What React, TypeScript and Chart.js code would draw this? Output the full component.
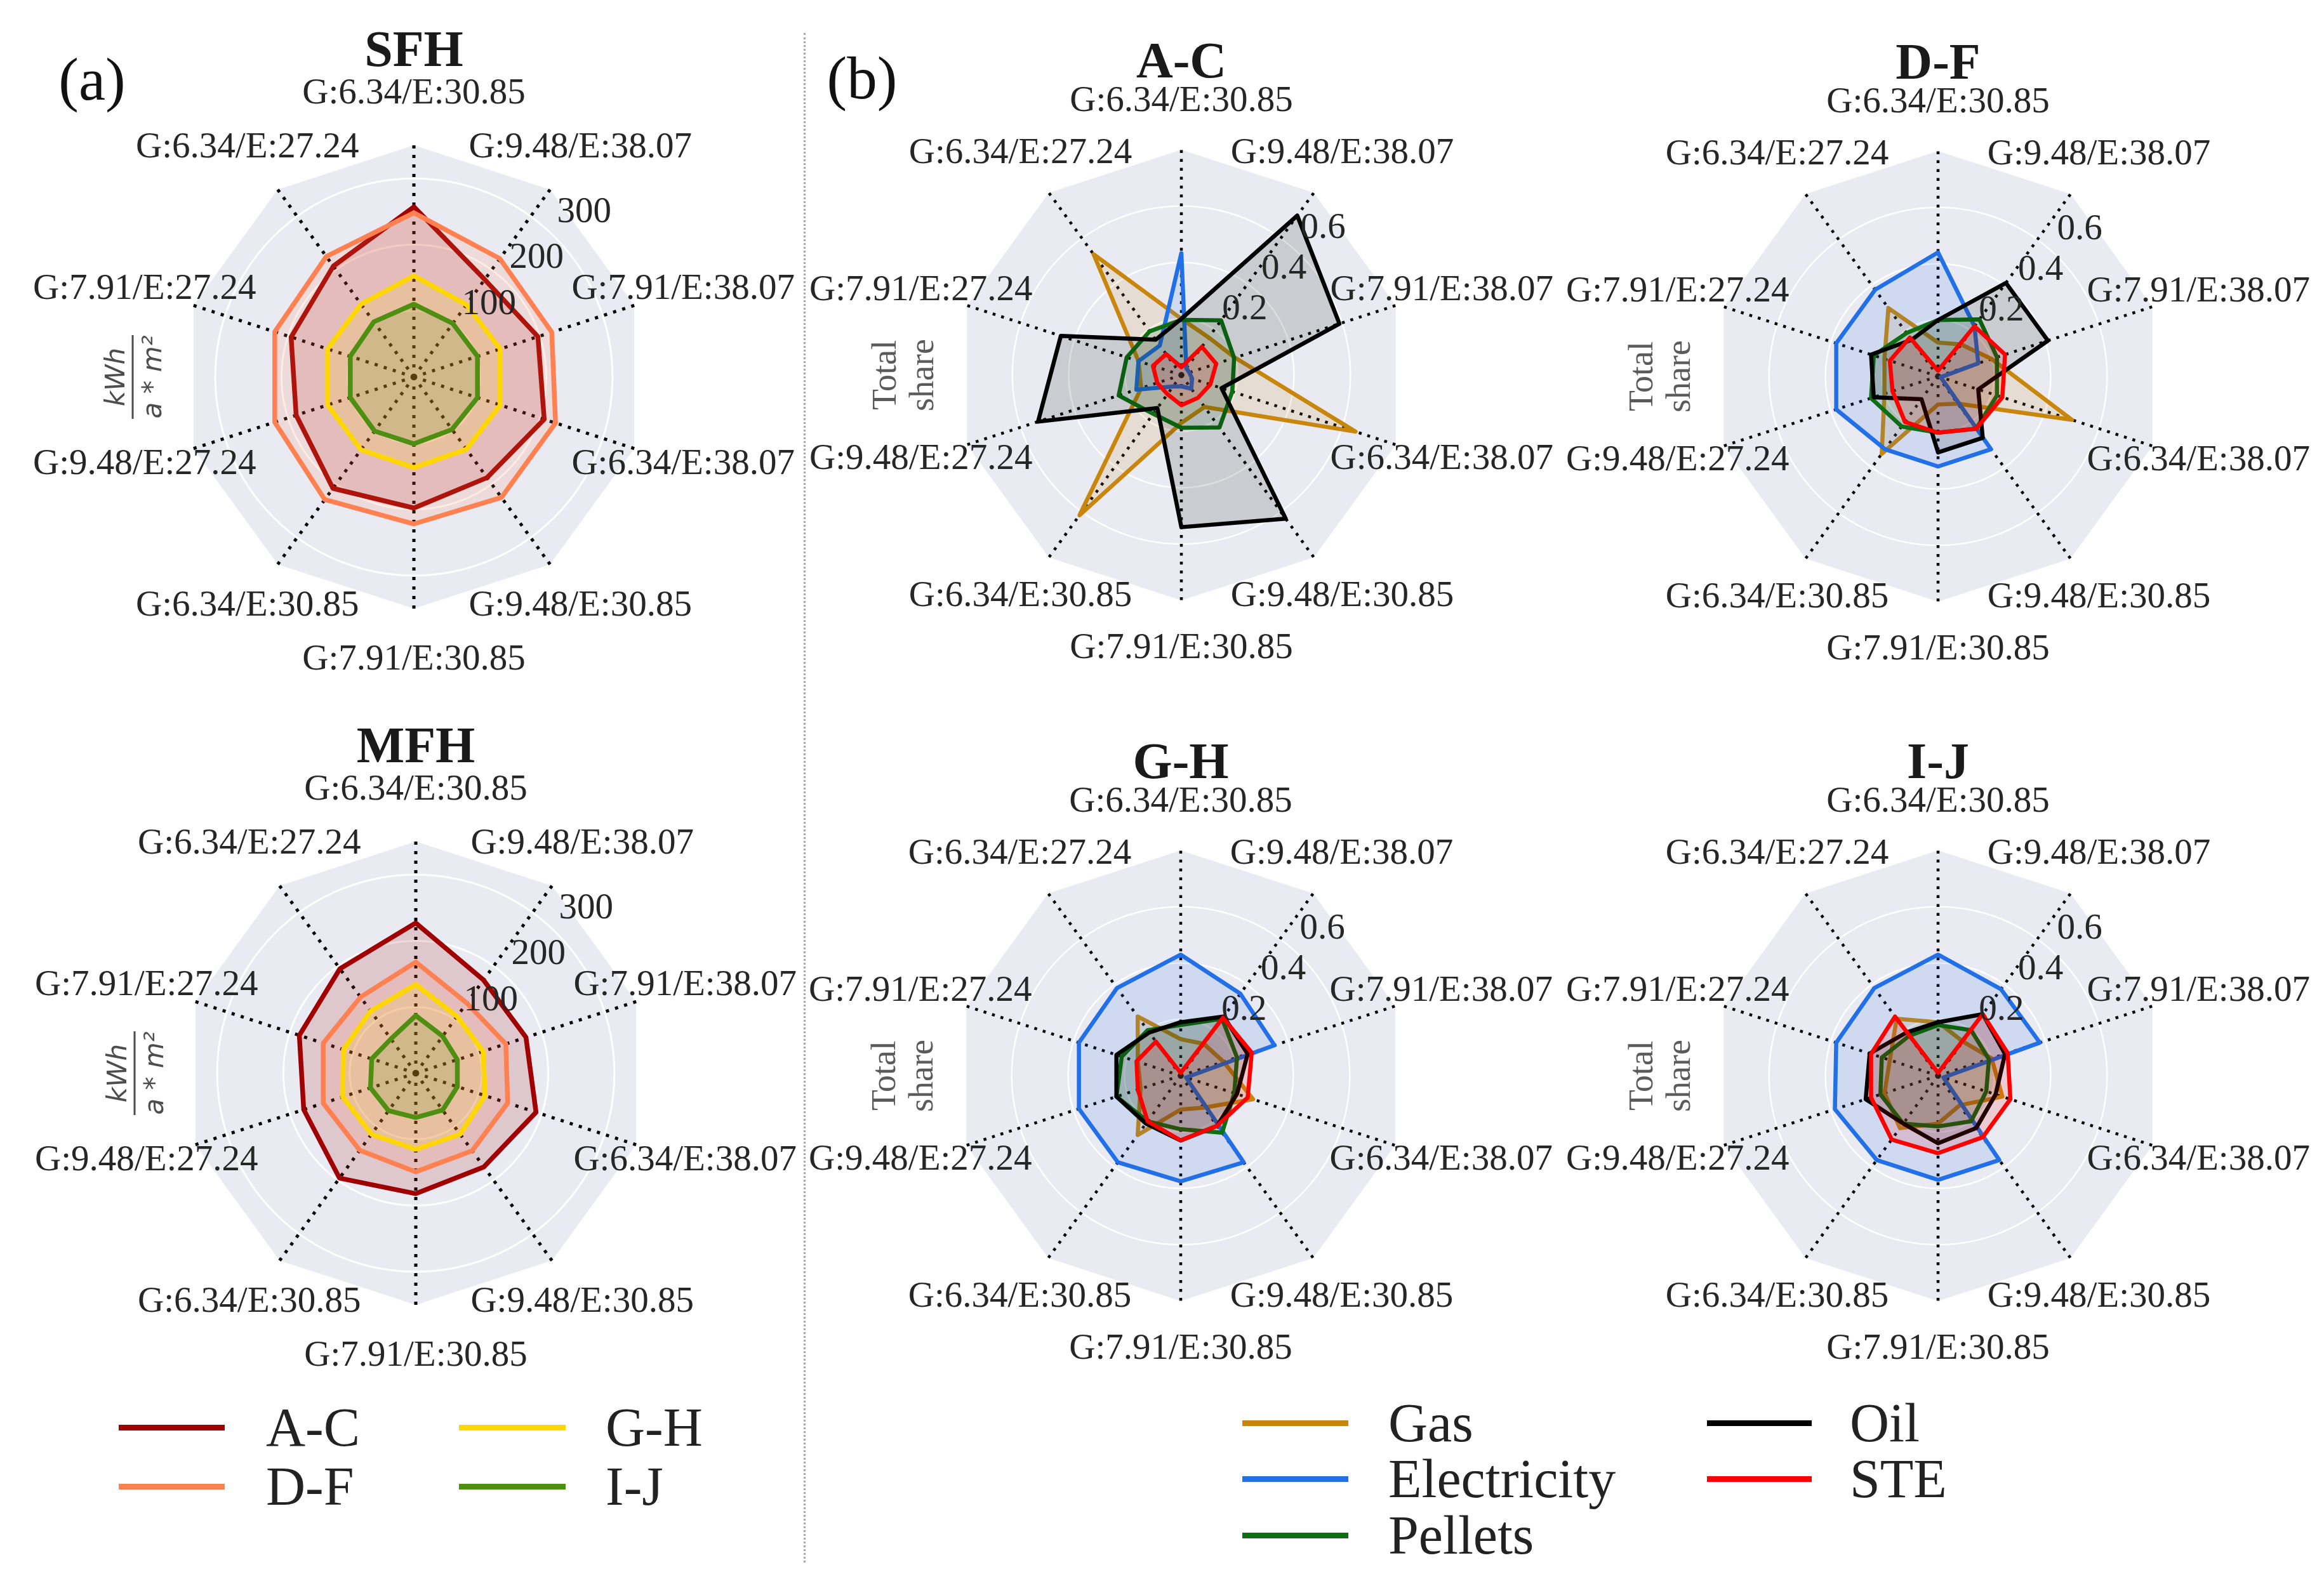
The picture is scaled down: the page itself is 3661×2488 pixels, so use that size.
import React, { useEffect, useRef } from 'react';
import { Chart, registerables } from 'chart.js';

Chart.register(...registerables);

// ---------- DATA ----------
// axes listed clockwise starting at the top
const AXIS_LABELS = [
  'G:6.34/E:30.85', 'G:9.48/E:38.07', 'G:7.91/E:38.07', 'G:6.34/E:38.07', 'G:9.48/E:30.85',
  'G:7.91/E:30.85', 'G:6.34/E:30.85', 'G:9.48/E:27.24', 'G:7.91/E:27.24', 'G:6.34/E:27.24',
];

const CLASS_NAMES = ['A-C', 'D-F', 'G-H', 'I-J'];
const CARRIER_NAMES = ['Gas', 'Electricity', 'Pellets', 'Oil', 'STE'];

const SFH_AC = [257, 182, 197, 207, 188, 198, 208, 187, 195, 207];
const SFH_DF = [248, 221, 219, 225, 225, 222, 229, 221, 221, 225];
const SFH_GH = [153, 135, 137, 137, 135, 137, 136, 137, 137, 136];
const SFH_IJ = [110, 100, 101, 101, 98, 101, 101, 101, 101, 103];

const MFH_AC = [227, 174, 175, 191, 175, 182, 196, 178, 185, 195];
const MFH_DF = [168, 131, 143, 146, 145, 149, 144, 147, 147, 142];
const MFH_GH = [134, 106, 107, 110, 114, 115, 114, 116, 115, 116];
const MFH_IJ = [87, 69, 66, 66, 69, 67, 70, 72, 70, 64];

const AC_GAS = [0.2, 0.165, 0.2, 0.65, 0.14, 0.17, 0.615, 0.15, 0.16, 0.53];
const AC_ELEC = [0.433, 0.03, 0.03, 0.04, 0.06, 0.04, 0.05, 0.168, 0.16, 0.13];
const AC_PELLETS = [0.196, 0.24, 0.197, 0.19, 0.23, 0.187, 0.17, 0.234, 0.204, 0.192];
const AC_OIL = [0.2, 0.7, 0.59, 0.15, 0.63, 0.54, 0.145, 0.535, 0.45, 0.155];
const AC_STE = [0.028, 0.124, 0.13, 0.108, 0.1, 0.107, 0.084, 0.09, 0.106, 0.092];

const DF_GAS = [0.12, 0.14, 0.2, 0.5, 0.12, 0.1, 0.34, 0.2, 0.2, 0.3];
const DF_ELEC = [0.44, 0.22, 0.15, 0.01, 0.32, 0.32, 0.32, 0.38, 0.38, 0.38];
const DF_PELLETS = [0.2, 0.25, 0.22, 0.22, 0.23, 0.2, 0.22, 0.25, 0.24, 0.19];
const DF_OIL = [0.2, 0.41, 0.41, 0.15, 0.27, 0.27, 0.1, 0.24, 0.25, 0.16];
const DF_STE = [0.02, 0.22, 0.25, 0.24, 0.23, 0.2, 0.2, 0.17, 0.18, 0.17];

const GH_GAS = [0.13, 0.14, 0.16, 0.27, 0.14, 0.12, 0.26, 0.15, 0.16, 0.26];
const GH_ELEC = [0.43, 0.36, 0.35, 0.02, 0.38, 0.375, 0.38, 0.38, 0.38, 0.385];
const GH_PELLETS = [0.18, 0.25, 0.21, 0.2, 0.25, 0.19, 0.2, 0.24, 0.22, 0.2];
const GH_OIL = [0.19, 0.26, 0.25, 0.21, 0.22, 0.23, 0.21, 0.24, 0.24, 0.19];
const GH_STE = [0.01, 0.255, 0.265, 0.25, 0.22, 0.23, 0.2, 0.16, 0.165, 0.15];

const IJ_GAS = [0.19, 0.15, 0.2, 0.24, 0.13, 0.17, 0.23, 0.2, 0.18, 0.25];
const IJ_ELEC = [0.43, 0.38, 0.38, 0.02, 0.37, 0.37, 0.37, 0.385, 0.38, 0.385];
const IJ_PELLETS = [0.18, 0.2, 0.19, 0.18, 0.2, 0.18, 0.21, 0.215, 0.21, 0.175];
const IJ_OIL = [0.19, 0.27, 0.25, 0.215, 0.23, 0.24, 0.21, 0.27, 0.255, 0.19];
const IJ_STE = [0.01, 0.27, 0.26, 0.27, 0.27, 0.275, 0.28, 0.25, 0.25, 0.26];

const LEFT_TICKS = [100, 200, 300];
const LEFT_TICK_LABELS = ['100', '200', '300'];
const RIGHT_TICKS = [0.2, 0.4, 0.6];
const RIGHT_TICK_LABELS = ['0.2', '0.4', '0.6'];

// ---------- STYLE ----------
const CLASS_COLORS = ['#a00000', '#ff8050', '#ffd700', '#4e8f12'];
const CARRIER_COLORS = ['#c8870c', '#2170e8', '#0d6e14', '#000000', '#ff0000'];
const SERIF = '"Liberation Serif", "DejaVu Serif", serif';

function hexA(hex: string, a: number) {
  const r = parseInt(hex.slice(1, 3), 16);
  const g = parseInt(hex.slice(3, 5), 16);
  const b = parseInt(hex.slice(5, 7), 16);
  return `rgba(${r},${g},${b},${a})`;
}

const CW = 1300;
const CH = 1100;
const OX = 650;
const OY = 590;

const radarDecor = {
  id: 'radarDecor',
  beforeDraw(chart: any) {
    const s = chart.scales.r;
    const ctx = chart.ctx;
    const n = chart.data.labels.length;
    ctx.save();
    ctx.beginPath();
    for (let i = 0; i < n; i++) {
      const p = s.getPointPosition(i, s.drawingArea);
      if (i === 0) ctx.moveTo(p.x, p.y);
      else ctx.lineTo(p.x, p.y);
    }
    ctx.closePath();
    ctx.fillStyle = '#eaeaf2';
    ctx.fill();
    ctx.restore();
  },
  afterDraw(chart: any, _a: any, o: any) {
    const s = chart.scales.r;
    const ctx = chart.ctx;
    const n = chart.data.labels.length;
    ctx.save();
    ctx.fillStyle = '#262626';
    ctx.textAlign = 'center';
    ctx.textBaseline = 'middle';
    ctx.font = `57px ${SERIF}`;
    for (let i = 0; i < n; i++) {
      const p = s.getPointPosition(i, s.drawingArea * o.labelK);
      ctx.fillText(String(chart.data.labels[i]), p.x, p.y);
    }
    const th = (o.tickAngle * Math.PI) / 180;
    o.ticks.forEach((v: number, k: number) => {
      const d = s.getDistanceFromCenterForValue(v) + o.tickOff;
      ctx.fillText(o.tickLabels[k], s.xCenter + d * Math.sin(th), s.yCenter - d * Math.cos(th));
    });
    // title
    ctx.fillStyle = '#1a1a1a';
    ctx.font = `bold 80px ${SERIF}`;
    ctx.textBaseline = 'alphabetic';
    ctx.fillText(o.title, s.xCenter, s.yCenter + o.titleDy);
    // y label
    if (o.kind === 'left') {
      ctx.save();
      ctx.translate(s.xCenter - 443, s.yCenter);
      ctx.rotate(-Math.PI / 2);
      ctx.fillStyle = '#4d4d4d';
      ctx.strokeStyle = '#4d4d4d';
      ctx.font = `italic 42px "DejaVu Sans", sans-serif`;
      ctx.textAlign = 'center';
      ctx.textBaseline = 'alphabetic';
      ctx.fillText('kWh', 0, -13);
      ctx.fillText('a * m²', 0, 45);
      ctx.lineWidth = 3;
      ctx.beginPath();
      ctx.moveTo(-66, 0);
      ctx.lineTo(66, 0);
      ctx.stroke();
      ctx.restore();
    } else {
      const drawRot = (txt: string, dx: number) => {
        ctx.save();
        ctx.fillStyle = '#5a5a5a';
        ctx.font = `54px ${SERIF}`;
        ctx.textAlign = 'center';
        ctx.textBaseline = 'middle';
        ctx.translate(s.xCenter + dx, s.yCenter);
        ctx.rotate(-Math.PI / 2);
        ctx.fillText(txt, 0, 0);
        ctx.restore();
      };
      drawRot('Total', -464);
      drawRot('share', -405);
    }
    ctx.restore();
  },
};

type PanelProps = {
  cx: number;
  cy: number;
  R: number;
  max: number;
  step: number;
  names: string[];
  colors: string[];
  series: number[][];
  lineWidth: number;
  fillAlpha: number;
  dash: number[];
  dashWidth: number;
  gridWidth: number;
  decor: any;
};

function RadarPanel(p: PanelProps) {
  const ref = useRef<HTMLCanvasElement>(null);
  useEffect(() => {
    const n = p.series.length;
    const chart = new Chart(ref.current as HTMLCanvasElement, {
      type: 'radar',
      data: {
        labels: AXIS_LABELS,
        datasets: p.series.map((d, i) => ({
          label: p.names[i],
          data: d,
          borderColor: p.colors[i],
          backgroundColor: hexA(p.colors[i], p.fillAlpha),
          borderWidth: p.lineWidth,
          fill: 'origin',
          pointRadius: 0,
          pointHoverRadius: 0,
          order: n - i,
        })),
      },
      options: {
        responsive: false,
        animation: false,
        devicePixelRatio: 1,
        layout: {
          padding: { left: OX - p.R, right: CW - OX - p.R, top: OY - p.R, bottom: CH - OY - p.R },
        },
        elements: { line: { tension: 0, borderJoinStyle: 'round' } },
        plugins: {
          legend: { display: false },
          tooltip: { enabled: false },
          title: { display: false },
          radarDecor: p.decor,
        } as any,
        scales: {
          r: {
            min: 0,
            max: p.max,
            ticks: { display: false, stepSize: p.step },
            grid: {
              circular: true,
              lineWidth: p.gridWidth,
              color: (c: any) => (c.tick && c.tick.value > p.max - p.step * 0.01 ? 'rgba(0,0,0,0)' : '#ffffff'),
            },
            angleLines: { display: true, color: '#000000', lineWidth: p.dashWidth, borderDash: p.dash },
            pointLabels: { display: false },
          },
        },
      } as any,
      plugins: [radarDecor as any],
    });
    return () => chart.destroy();
  }, []);
  return (
    <canvas
      ref={ref}
      width={CW}
      height={CH}
      style={{ position: 'absolute', left: p.cx - OX, top: p.cy - OY, width: CW, height: CH }}
    />
  );
}

function leftDecor(title: string) {
  return {
    kind: 'left', title, titleDy: -490, labelK: 1.222,
    ticks: LEFT_TICKS, tickLabels: LEFT_TICK_LABELS, tickAngle: 46, tickOff: 60,
  };
}
function rightDecor(title: string) {
  return {
    kind: 'right', title, titleDy: -469, labelK: 1.215,
    ticks: RIGHT_TICKS, tickLabels: RIGHT_TICK_LABELS, tickAngle: 44, tickOff: 55,
  };
}

function LegendItem(props: { x1: number; x2: number; tx: number; y: number; color: string; text: string }) {
  return (
    <>
      <div
        style={{
          position: 'absolute', left: props.x1, top: props.y - 4.5, width: props.x2 - props.x1, height: 9,
          background: props.color,
        }}
      />
      <div
        style={{
          position: 'absolute', left: props.tx, top: props.y, transform: 'translateY(-50%)',
          fontSize: 86, lineHeight: 1, fontFamily: SERIF, color: '#222', whiteSpace: 'nowrap',
        }}
      >
        {props.text}
      </div>
    </>
  );
}

export default function App() {
  const leftCommon = {
    R: 365, max: 350, step: 100, names: CLASS_NAMES, colors: CLASS_COLORS, lineWidth: 7.5,
    fillAlpha: 0.15, dash: [5, 10], dashWidth: 5, gridWidth: 3,
  };
  const rightCommon = {
    R: 355, max: 0.8, step: 0.2, names: CARRIER_NAMES, colors: CARRIER_COLORS, lineWidth: 6.5,
    fillAlpha: 0.13, dash: [4.5, 9.5], dashWidth: 4.5, gridWidth: 2.5,
  };
  return (
    <div
      style={{
        position: 'absolute', left: 0, top: 0, width: 3661, height: 2488, background: '#ffffff',
        overflow: 'hidden', fontFamily: SERIF,
      }}
    >
      <RadarPanel {...leftCommon} cx={652} cy={594} series={[SFH_AC, SFH_DF, SFH_GH, SFH_IJ]} decor={leftDecor('SFH')} />
      <RadarPanel {...leftCommon} cx={655} cy={1691} series={[MFH_AC, MFH_DF, MFH_GH, MFH_IJ]} decor={leftDecor('MFH')} />
      <RadarPanel {...rightCommon} cx={1861} cy={591} series={[AC_GAS, AC_ELEC, AC_PELLETS, AC_OIL, AC_STE]} decor={rightDecor('A-C')} />
      <RadarPanel {...rightCommon} cx={3053} cy={593} series={[DF_GAS, DF_ELEC, DF_PELLETS, DF_OIL, DF_STE]} decor={rightDecor('D-F')} />
      <RadarPanel {...rightCommon} cx={1860} cy={1695} series={[GH_GAS, GH_ELEC, GH_PELLETS, GH_OIL, GH_STE]} decor={rightDecor('G-H')} />
      <RadarPanel {...rightCommon} cx={3053} cy={1695} series={[IJ_GAS, IJ_ELEC, IJ_PELLETS, IJ_OIL, IJ_STE]} decor={rightDecor('I-J')} />

      <div style={{ position: 'absolute', left: 1266, top: 52, height: 2410, borderLeft: '3px dotted #a8a8a8' }} />

      <div style={{ position: 'absolute', left: 145, top: 78, transform: 'translateX(-50%)', fontSize: 95, lineHeight: 1, color: '#111' }}>(a)</div>
      <div style={{ position: 'absolute', left: 1358, top: 76, transform: 'translateX(-50%)', fontSize: 95, lineHeight: 1, color: '#111' }}>(b)</div>

      <LegendItem x1={187} x2={354} tx={419} y={2249} color={CLASS_COLORS[0]} text={CLASS_NAMES[0]} />
      <LegendItem x1={187} x2={354} tx={419} y={2342} color={CLASS_COLORS[1]} text={CLASS_NAMES[1]} />
      <LegendItem x1={723} x2={891} tx={954} y={2249} color={CLASS_COLORS[2]} text={CLASS_NAMES[2]} />
      <LegendItem x1={723} x2={891} tx={954} y={2342} color={CLASS_COLORS[3]} text={CLASS_NAMES[3]} />

      <LegendItem x1={1957} x2={2124} tx={2187} y={2242} color={CARRIER_COLORS[0]} text={CARRIER_NAMES[0]} />
      <LegendItem x1={1957} x2={2124} tx={2187} y={2330} color={CARRIER_COLORS[1]} text={CARRIER_NAMES[1]} />
      <LegendItem x1={1957} x2={2124} tx={2187} y={2419} color={CARRIER_COLORS[2]} text={CARRIER_NAMES[2]} />
      <LegendItem x1={2689} x2={2854} tx={2914} y={2242} color={CARRIER_COLORS[3]} text={CARRIER_NAMES[3]} />
      <LegendItem x1={2689} x2={2854} tx={2914} y={2330} color={CARRIER_COLORS[4]} text={CARRIER_NAMES[4]} />
    </div>
  );
}
